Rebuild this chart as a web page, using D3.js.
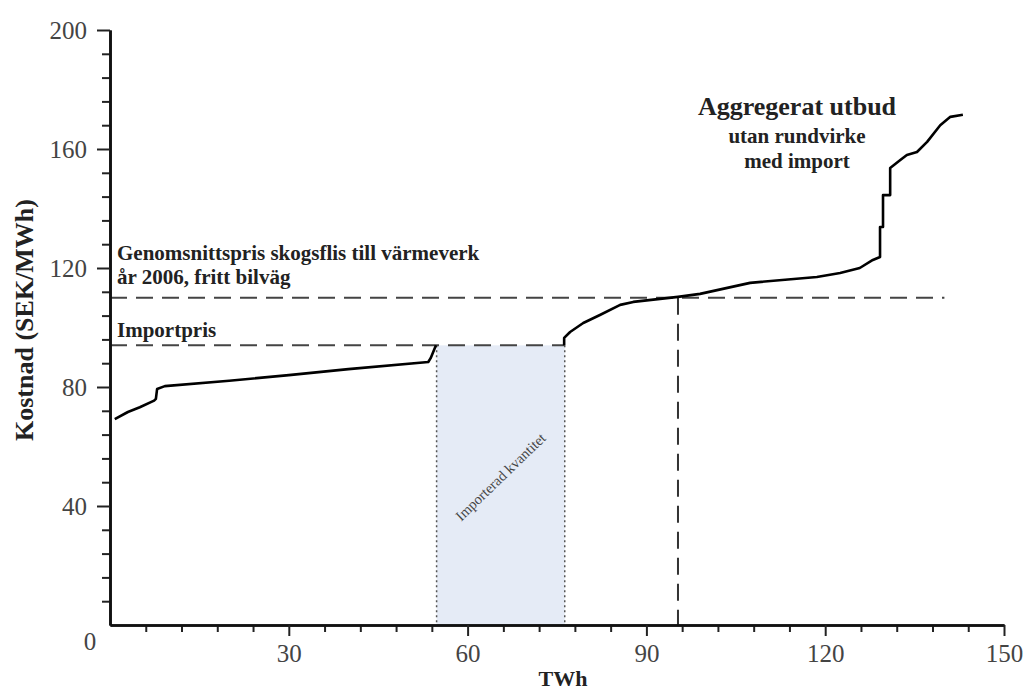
<!DOCTYPE html>
<html>
<head>
<meta charset="utf-8">
<script src="https://cdn.jsdelivr.net/npm/d3@7"></script>
<style>
  body { margin: 0; background: #fff; }
  svg { font-family: "Liberation Serif", "DejaVu Serif", serif; }
</style>
</head>
<body>
<script>
// supply curve, cheap part (before the import gap)
const lowTWh  = [0.8, 3, 5, 7.4, 7.7, 7.9, 9.2, 20, 30, 40, 53.4, 53.8, 54.4, 54.7]
const lowCost = [69.2, 71.6, 73.2, 75.4, 76, 79.3, 80.3, 82.1, 84, 86, 88.4, 89.7, 92.6, 94]

// supply curve, expensive part (after the import gap)
const highTWh  = [76.2, 76.2, 77.2, 79.4, 82.2, 85.6, 87.8, 95.3, 99, 107.4, 118.6, 122.5, 125.8, 128, 129.2, 129.2, 129.7, 129.7, 130.9, 130.9, 132.6, 133.7, 135.4, 137.1, 139.3, 141, 143.1]
const highCost = [94, 96.5, 98.5, 101.5, 104.2, 107.6, 108.6, 110.3, 111.3, 115, 117, 118.3, 120, 122.7, 123.7, 133.8, 133.8, 144.5, 144.5, 153.6, 156.3, 158, 159, 162.4, 168, 170.8, 171.5]

const avgPrice = 110
const avgLineEnd = 140
const importPrice = 94
const importStart = 54.8
const importEnd = 76.3
const eqQuantity = 95.3

const xMajor = [30, 60, 90, 120, 150]
const yMajor = [40, 80, 120, 160, 200]

const width = 1025
const height = 693

const svg = d3.select('body').append('svg')
  .attr('width', width)
  .attr('height', height)

const x = d3.scaleLinear().domain([0, 150]).range([110, 1004])
const y = d3.scaleLinear().domain([0, 200]).range([625, 30])

// imported quantity box
svg.append('rect')
  .attr('x', x(importStart))
  .attr('y', y(importPrice))
  .attr('width', x(importEnd) - x(importStart))
  .attr('height', y(0) - y(importPrice))
  .attr('fill', '#e5ebf6')

;[importStart, importEnd].forEach(v => {
  svg.append('line')
    .attr('x1', x(v)).attr('x2', x(v))
    .attr('y1', y(importPrice)).attr('y2', y(0))
    .attr('stroke', '#555')
    .attr('stroke-width', 1.5)
    .attr('stroke-dasharray', '2,3')
})

svg.append('text')
  .attr('transform', `translate(${(x(importStart) + x(importEnd)) / 2 + 1},478) rotate(-44)`)
  .attr('text-anchor', 'middle')
  .attr('dominant-baseline', 'middle')
  .attr('font-size', 14.5)
  .attr('fill', '#444')
  .text('Importerad kvantitet')

// dashed reference lines
const dash = '17,9'
svg.append('line')
  .attr('x1', x(0)).attr('x2', x(avgLineEnd))
  .attr('y1', y(avgPrice)).attr('y2', y(avgPrice))
  .attr('stroke', '#444').attr('stroke-width', 2)
  .attr('stroke-dasharray', dash)

svg.append('line')
  .attr('x1', x(0)).attr('x2', x(importEnd))
  .attr('y1', y(importPrice)).attr('y2', y(importPrice))
  .attr('stroke', '#444').attr('stroke-width', 2)
  .attr('stroke-dasharray', dash)

svg.append('line')
  .attr('x1', x(eqQuantity)).attr('x2', x(eqQuantity))
  .attr('y1', y(avgPrice)).attr('y2', y(0))
  .attr('stroke', '#333').attr('stroke-width', 2)
  .attr('stroke-dasharray', dash)

// supply curve
const line = d3.line().x(d => x(d[0])).y(d => y(d[1]))
;[[lowTWh, lowCost], [highTWh, highCost]].forEach(([xs, ys]) => {
  svg.append('path')
    .datum(xs.map((v, i) => [v, ys[i]]))
    .attr('d', line)
    .attr('fill', 'none')
    .attr('stroke', '#000')
    .attr('stroke-width', 2.6)
    .attr('stroke-linejoin', 'round')
})

// axes
const yMinor = d3.range(8, 200, 8).filter(v => !yMajor.includes(v))
const xMinor = d3.range(6, 150, 6).filter(v => !xMajor.includes(v))

const yAxisMinor = svg.append('g')
  .attr('transform', `translate(${x(0)},0)`)
  .call(d3.axisLeft(y).tickValues(yMinor).tickSize(8).tickSizeOuter(0).tickFormat(''))
const yAxisMajor = svg.append('g')
  .attr('transform', `translate(${x(0)},0)`)
  .call(d3.axisLeft(y).tickValues(yMajor).tickSize(13).tickSizeOuter(0).tickPadding(10))

const xAxisMinor = svg.append('g')
  .attr('transform', `translate(0,${y(0)})`)
  .call(d3.axisBottom(x).tickValues(xMinor).tickSize(7).tickSizeOuter(0).tickFormat(''))
const xAxisMajor = svg.append('g')
  .attr('transform', `translate(0,${y(0)})`)
  .call(d3.axisBottom(x).tickValues(xMajor).tickSize(11).tickSizeOuter(0).tickPadding(8))

;[yAxisMinor, yAxisMajor, xAxisMinor, xAxisMajor].forEach(g => {
  g.selectAll('path.domain').attr('stroke', '#111').attr('stroke-width', 2.6)
  g.selectAll('.tick line').attr('stroke', '#222').attr('stroke-width', 2)
  g.selectAll('.tick text')
    .attr('font-family', '"Liberation Serif", serif')
    .attr('font-size', 25)
    .attr('fill', '#444')
})
yAxisMajor.selectAll('.tick text').attr('dy', '0.35em')

svg.append('text')
  .attr('x', 90).attr('y', 644)
  .attr('text-anchor', 'middle')
  .attr('dominant-baseline', 'middle')
  .attr('font-size', 25)
  .attr('fill', '#444')
  .text('0')

// axis titles
svg.append('text')
  .attr('x', 563).attr('y', 686)
  .attr('text-anchor', 'middle')
  .attr('font-size', 22)
  .attr('font-weight', 'bold')
  .attr('fill', '#222')
  .text('TWh')

svg.append('text')
  .attr('transform', 'translate(33,320) rotate(-90)')
  .attr('text-anchor', 'middle')
  .attr('font-size', 26)
  .attr('font-weight', 'bold')
  .attr('fill', '#222')
  .text('Kostnad (SEK/MWh)')

// annotations
const notes = [
  { text: 'Genomsnittspris skogsflis till värmeverk', x: 117, y: 260, size: 21, anchor: 'start' },
  { text: 'år 2006, fritt bilväg', x: 117, y: 284, size: 21, anchor: 'start' },
  { text: 'Importpris', x: 117, y: 337, size: 21, anchor: 'start' },
  { text: 'Aggregerat utbud', x: 797, y: 115, size: 26, anchor: 'middle' },
  { text: 'utan rundvirke', x: 797, y: 143, size: 21, anchor: 'middle' },
  { text: 'med import', x: 797, y: 168, size: 21, anchor: 'middle' }
]
svg.selectAll('.note')
  .data(notes)
  .enter().append('text')
  .attr('class', 'note')
  .attr('x', d => d.x)
  .attr('y', d => d.y)
  .attr('text-anchor', d => d.anchor)
  .attr('font-size', d => d.size)
  .attr('font-weight', 'bold')
  .attr('fill', '#222')
  .text(d => d.text)
</script>
</body>
</html>
